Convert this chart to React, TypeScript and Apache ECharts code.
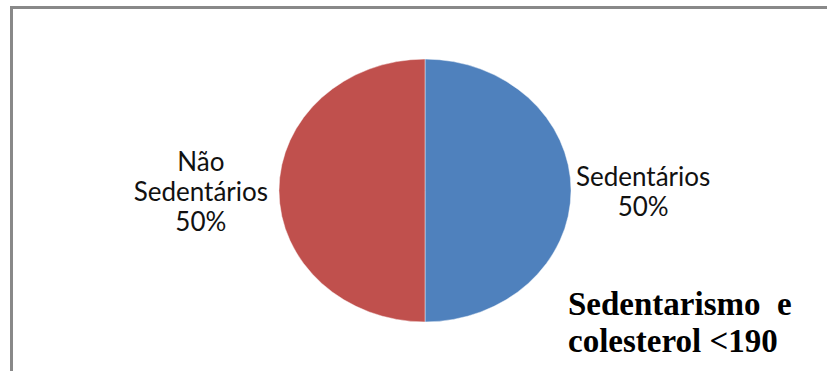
import React, { useEffect, useRef } from 'react';
import * as echarts from 'echarts';

const categories = ['Sedentários', 'Não Sedentários'];
const values = [50, 50];
const colors = ['#4F81BD', '#C0504D'];
const titleLines = ['Sedentarismo  e', 'colesterol <190'];

const W = 827;
const H = 371;
const CX = 425;
const CY = 190.5;
const R = 146;
const SY = 0.9;

function buildSeries(showLabels: boolean) {
  return [
    {
      type: 'pie',
      center: [CX, CY],
      radius: [0, R],
      startAngle: 90,
      clockwise: true,
      silent: true,
      avoidLabelOverlap: false,
      data: categories.map((name, i) => ({
        name,
        value: values[i],
        itemStyle: {
          color: showLabels ? 'rgba(0,0,0,0)' : colors[i],
          borderColor: 'rgba(255,255,255,0.45)',
          borderWidth: showLabels ? 0 : 1,
        },
        labelLine: { show: false, length: 0, length2: 0 },
        label: { distanceToLabelLine: i === 0 ? 5 : 11 },
      })),
      label: {
        show: showLabels,
        position: 'outside',
        formatter: (p: any) =>
          [...String(p.name).split(' '), `${Math.round(p.percent)}%`]
            .map((s) => `{a|${s}}`)
            .join('\n'),
        rich: {
          a: {
            fontFamily: 'Lato',
            fontSize: 26,
            lineHeight: 30,
            color: '#111',
            align: 'center',
          },
        },
      },
      emphasis: { disabled: true },
    },
  ];
}

export default function App() {
  const baseRef = useRef<HTMLDivElement>(null);
  const overRef = useRef<HTMLDivElement>(null);

  useEffect(() => {
    const base = echarts.init(baseRef.current!, undefined, { renderer: 'svg' });
    base.setOption({
      animation: false,
      backgroundColor: 'transparent',
      series: buildSeries(false),
    });
    const over = echarts.init(overRef.current!, undefined, { renderer: 'svg' });
    over.setOption({
      animation: false,
      backgroundColor: 'transparent',
      title: {
        text: titleLines.join('\n'),
        left: 568,
        top: 285,
        padding: 0,
        textStyle: {
          fontFamily: 'Liberation Serif',
          fontWeight: 'bold',
          fontSize: 33,
          lineHeight: 37,
          color: '#000',
        },
      },
      graphic: [
        {
          type: 'polyline',
          silent: true,
          shape: { points: [[11.5, H], [11.5, 7.5], [W, 7.5]] },
          style: { stroke: '#898989', lineWidth: 3, fill: 'none' },
        },
      ],
      series: buildSeries(true),
    });
    return () => {
      base.dispose();
      over.dispose();
    };
  }, []);

  return (
    <div style={{ position: 'fixed', left: 0, top: 0, width: W, height: H, background: '#fff', overflow: 'hidden' }}>
      <div
        ref={baseRef}
        style={{
          position: 'absolute',
          left: 0,
          top: 0,
          width: W,
          height: H,
          transform: `scaleY(${SY})`,
          transformOrigin: `${CX}px ${CY}px`,
        }}
      />
      <div ref={overRef} style={{ position: 'absolute', left: 0, top: 0, width: W, height: H }} />
    </div>
  );
}
